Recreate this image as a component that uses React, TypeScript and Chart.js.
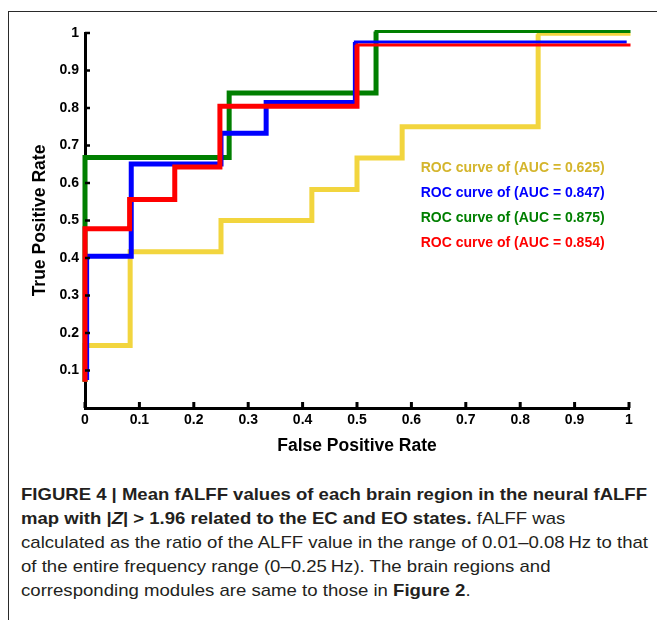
import React, { useEffect, useLayoutEffect, useRef } from "react";
import { Chart, registerables } from "chart.js";

Chart.register(...registerables);

const FONT = "'Liberation Sans', Arial, Helvetica, sans-serif";
const CAPTION_FONT = "'Liberation Sans', Arial, Helvetica, sans-serif";

// ---- data ----
const seriesLabels = [
  "ROC curve of (AUC = 0.625)",
  "ROC curve of (AUC = 0.847)",
  "ROC curve of (AUC = 0.875)",
  "ROC curve of (AUC = 0.854)",
];
const lineColors = ["#f2d53e", "#0000ff", "#007f00", "#ff0000"];
const textColors = ["#d4b52c", "#0000ff", "#007f00", "#ff0000"];

const yellowFpr = [0, 0, 0.083, 0.083, 0.25, 0.25, 0.417, 0.417, 0.5, 0.5, 0.583, 0.583, 0.833, 0.833, 1.0];
const yellowTpr = [0.07, 0.167, 0.167, 0.417, 0.417, 0.5, 0.5, 0.583, 0.583, 0.667, 0.667, 0.75, 0.75, 0.997, 0.997];

const blueFpr = [0.003, 0.003, 0.085, 0.085, 0.25, 0.25, 0.333, 0.333, 0.497, 0.497, 0.993];
const blueTpr = [0.075, 0.405, 0.405, 0.651, 0.651, 0.733, 0.733, 0.815, 0.815, 0.976, 0.976];

const greenFpr = [0, 0, 0.265, 0.265, 0.535, 0.535, 1.0];
const greenTpr = [0.07, 0.668, 0.668, 0.84, 0.84, 1.004, 1.004];

const redFpr = [0, 0, 0.082, 0.082, 0.165, 0.165, 0.248, 0.248, 0.5, 0.5, 1.0];
const redTpr = [0.07, 0.478, 0.478, 0.556, 0.556, 0.643, 0.643, 0.805, 0.805, 0.968, 0.968];

const xTickValues = [0, 0.1, 0.2, 0.3, 0.4, 0.5, 0.6, 0.7, 0.8, 0.9, 1];
const xTickLabels = ["0", "0.1", "0.2", "0.3", "0.4", "0.5", "0.6", "0.7", "0.8", "0.9", "1"];
const yTickValues = [0.1, 0.2, 0.3, 0.4, 0.5, 0.6, 0.7, 0.8, 0.9, 1];
const yTickLabels = ["0.1", "0.2", "0.3", "0.4", "0.5", "0.6", "0.7", "0.8", "0.9", "1"];

const xAxisTitle = "False Positive Rate";
const yAxisTitle = "True Positive Rate";

type Seg = { t: string; b?: boolean; i?: boolean };
const captionLines: Seg[][] = [
  [{ t: "FIGURE 4 | Mean fALFF values of each brain region in the neural fALFF", b: true }],
  [
    { t: "map with |", b: true },
    { t: "Z", b: true, i: true },
    { t: "| > 1.96 related to the EC and EO states.", b: true },
    { t: " fALFF was" },
  ],
  [{ t: "calculated as the ratio of the ALFF value in the range of 0.01\u20130.08\u2009Hz to that" }],
  [{ t: "of the entire frequency range (0\u20130.25\u2009Hz). The brain regions and" }],
  [{ t: "corresponding modules are same to those in " }, { t: "Figure 2", b: true }, { t: "." }],
];
const boldLineWidth = 626;
const regularLineWidth = 627;
const lineUsesBoldScale = [true, true, false, false, false];

// ---- plugins ----
const inwardTicks = {
  id: "inwardTicks",
  afterDatasetsDraw(chart: any) {
    const { ctx, chartArea, scales } = chart;
    ctx.save();
    ctx.strokeStyle = "#000";
    ctx.lineCap = "butt";
    ctx.lineWidth = 2.5;
    for (const v of yTickValues) {
      const py = scales.y.getPixelForValue(v);
      ctx.beginPath();
      ctx.moveTo(chartArea.left, py);
      ctx.lineTo(chartArea.left + 5, py);
      ctx.stroke();
    }
    ctx.lineWidth = 3;
    for (const v of xTickValues) {
      const px = scales.x.getPixelForValue(v);
      ctx.beginPath();
      ctx.moveTo(px, chartArea.bottom);
      ctx.lineTo(px, chartArea.bottom - 6);
      ctx.stroke();
    }
    ctx.restore();
  },
};

const textLegend = {
  id: "textLegend",
  afterDraw(chart: any) {
    const { ctx, chartArea } = chart;
    const w = chartArea.right - chartArea.left;
    const h = chartArea.bottom - chartArea.top;
    const x0 = chartArea.left + 0.617 * w;
    const y0 = chartArea.top + 0.37 * h;
    ctx.save();
    ctx.font = `bold 14px ${FONT}`;
    ctx.textAlign = "left";
    ctx.textBaseline = "alphabetic";
    chart.data.datasets.forEach((ds: any, i: number) => {
      ctx.fillStyle = textColors[i];
      ctx.fillText(ds.label, x0, y0 + i * 25.2);
    });
    ctx.restore();
  },
};

function pts(xs: number[], ys: number[]) {
  return xs.map((x, i) => ({ x, y: ys[i] }));
}

function makeDataset(label: string, color: string, xs: number[], ys: number[], order: number) {
  const last = xs.length - 1;
  return {
    label,
    data: pts(xs, ys),
    borderColor: color,
    backgroundColor: color,
    borderWidth: 5,
    borderJoinStyle: "miter",
    borderCapStyle: "butt",
    pointRadius: 0,
    tension: 0,
    fill: false,
    clip: false,
    order,
    segment: {
      borderWidth: (c: any) => (c.p1DataIndex === last ? 3 : 5),
      borderCapStyle: (c: any) => (c.p1DataIndex === last ? "square" : "butt"),
    },
  };
}

function ChartCanvas() {
  const ref = useRef<HTMLCanvasElement | null>(null);
  useEffect(() => {
    if (!ref.current) return;
    const tickFont = { family: FONT, size: 14, weight: "bold" as const };
    const titleFont = { family: FONT, size: 17.5, weight: "bold" as const };
    const chart = new Chart(ref.current, {
      type: "line",
      data: {
        datasets: [
          makeDataset(seriesLabels[0], lineColors[0], yellowFpr, yellowTpr, 3),
          makeDataset(seriesLabels[1], lineColors[1], blueFpr, blueTpr, 1),
          makeDataset(seriesLabels[2], lineColors[2], greenFpr, greenTpr, 2),
          makeDataset(seriesLabels[3], lineColors[3], redFpr, redTpr, 0),
        ] as any,
      },
      options: {
        responsive: false,
        animation: false,
        layout: { padding: { top: 33, right: 28, left: 0, bottom: 0 } },
        plugins: {
          legend: { display: false },
          tooltip: { enabled: false },
          title: { display: false },
        },
        scales: {
          x: {
            type: "linear",
            min: 0,
            max: 1,
            grid: { display: false, drawTicks: false },
            border: { display: true, color: "#000", width: 3 },
            afterBuildTicks: (s: any) => {
              s.ticks = xTickValues.map((v) => ({ value: v }));
            },
            ticks: {
              color: "#000",
              font: tickFont,
              padding: 4,
              autoSkip: false,
              maxRotation: 0,
              callback: (_v: any, i: number) => xTickLabels[i],
            },
            title: {
              display: true,
              text: xAxisTitle,
              color: "#000",
              font: titleFont,
              padding: { top: 0, bottom: 13 },
            },
            afterFit: (s: any) => {
              s.height = 62;
            },
          },
          y: {
            type: "linear",
            min: 0,
            max: 1,
            grid: { display: false, drawTicks: false },
            border: { display: true, color: "#000", width: 3 },
            afterBuildTicks: (s: any) => {
              s.ticks = yTickValues.map((v) => ({ value: v }));
            },
            ticks: {
              color: "#000",
              font: tickFont,
              padding: 6,
              autoSkip: false,
              callback: (_v: any, i: number) => yTickLabels[i],
            },
            title: {
              display: true,
              text: yAxisTitle,
              color: "#000",
              font: titleFont,
              padding: { top: 30, bottom: 0 },
            },
            afterFit: (s: any) => {
              s.width = 85;
            },
          },
        },
      } as any,
      plugins: [inwardTicks, textLegend],
    });
    return () => chart.destroy();
  }, []);
  return (
    <canvas
      ref={ref}
      width={657}
      height={470}
      style={{ position: "absolute", left: 0, top: 0, width: 657, height: 470 }}
    />
  );
}

function Caption() {
  const lineRefs = useRef<(HTMLSpanElement | null)[]>([]);
  useLayoutEffect(() => {
    const els = lineRefs.current;
    els.forEach((el) => el && (el.style.transform = "none"));
    const wBold = els[0] ? els[0].getBoundingClientRect().width : 0;
    const wReg = els[2] ? els[2].getBoundingClientRect().width : 0;
    const sBold = wBold > 0 ? boldLineWidth / wBold : 1;
    const sReg = wReg > 0 ? regularLineWidth / wReg : 1;
    els.forEach((el, i) => {
      if (!el) return;
      el.style.transform = `scaleX(${lineUsesBoldScale[i] ? sBold : sReg})`;
    });
  }, []);
  return (
    <div
      style={{
        position: "absolute",
        left: 21,
        top: 483,
        fontFamily: CAPTION_FONT,
        fontSize: 17,
        lineHeight: "24.1px",
        color: "#231f20",
        whiteSpace: "nowrap",
      }}
    >
      {captionLines.map((line, i) => (
        <div key={i} style={{ height: "24.1px" }}>
          <span
            ref={(el) => {
              lineRefs.current[i] = el;
            }}
            style={{ display: "inline-block", transformOrigin: "0 0" }}
          >
            {line.map((s, j) => (
              <span
                key={j}
                style={{ fontWeight: s.b ? "bold" : "normal", fontStyle: s.i ? "italic" : "normal" }}
              >
                {s.t}
              </span>
            ))}
          </span>
        </div>
      ))}
    </div>
  );
}

export default function App() {
  return (
    <div>
      <div
        style={{
          position: "absolute",
          left: 8,
          top: 11,
          width: 649,
          height: 609,
          boxSizing: "border-box",
          borderTop: "1px solid #2a2a2a",
          borderLeft: "1px solid #2a2a2a",
        }}
      />
      <ChartCanvas />
      <Caption />
    </div>
  );
}
